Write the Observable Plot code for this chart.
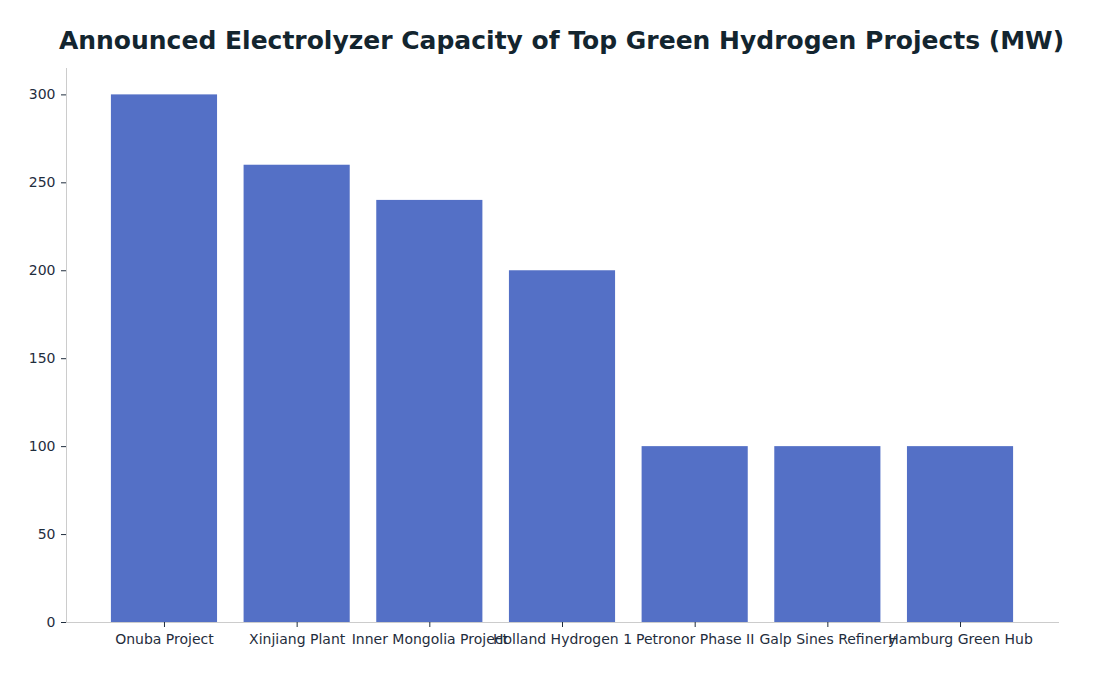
<!DOCTYPE html>
<html>
<head>
<meta charset="utf-8">
<script src="https://cdn.jsdelivr.net/npm/d3@7"></script>
<script src="https://cdn.jsdelivr.net/npm/@observablehq/plot@0.6"></script>
<style>
  body { margin: 0; background: #fff; font-family: "DejaVu Sans", sans-serif; }
  #title { box-sizing: border-box; width: 1095px; height: 60px; padding: 26px 0 0 28px; text-align: center;
    font: bold 25px "DejaVu Sans", sans-serif; color: #13252f; line-height: 30px; white-space: nowrap; }
</style>
</head>
<body>
<div id="title">Announced Electrolyzer Capacity of Top Green Hydrogen Projects (MW)</div>
<div id="chart"></div>
<script>
const projects = ["Onuba Project", "Xinjiang Plant", "Inner Mongolia Project", "Holland Hydrogen 1", "Petronor Phase II", "Galp Sines Refinery", "Hamburg Green Hub"];
const capacityMW = [300, 260, 240, 200, 100, 100, 100];
const yTicks = [0, 50, 100, 150, 200, 250, 300];

const data = projects.map((p, i) => ({project: p, mw: capacityMW[i]}));

const chart = Plot.plot({
  width: 1095,
  height: 616,
  marginTop: 8,
  marginBottom: 54,
  marginLeft: 66,
  marginRight: 37,
  style: {fontFamily: "DejaVu Sans, sans-serif", fontSize: "14px", color: "#1f2d3d", background: "#fff"},
  x: {type: "band", domain: projects, paddingInner: 0.2, paddingOuter: 0.3385, round: false, label: null},
  y: {domain: [0, 315], label: null},
  marks: [
    Plot.barY(data, {x: "project", y: "mw", fill: "#5470c6"}),
    Plot.frame({anchor: "left", stroke: "#cccccc"}),
    Plot.frame({anchor: "bottom", stroke: "#cccccc"}),
    Plot.axisY({ticks: yTicks, tickSize: 5, tickPadding: 6, stroke: "#1f2d3d", fill: "#1f2d3d", label: null, fontSize: 14}),
    Plot.axisX({tickSize: 5, tickPadding: 7, stroke: "#1f2d3d", fill: "#1f2d3d", label: null, fontSize: 14})
  ]
});
document.getElementById("chart").appendChild(chart);
</script>
</body>
</html>
